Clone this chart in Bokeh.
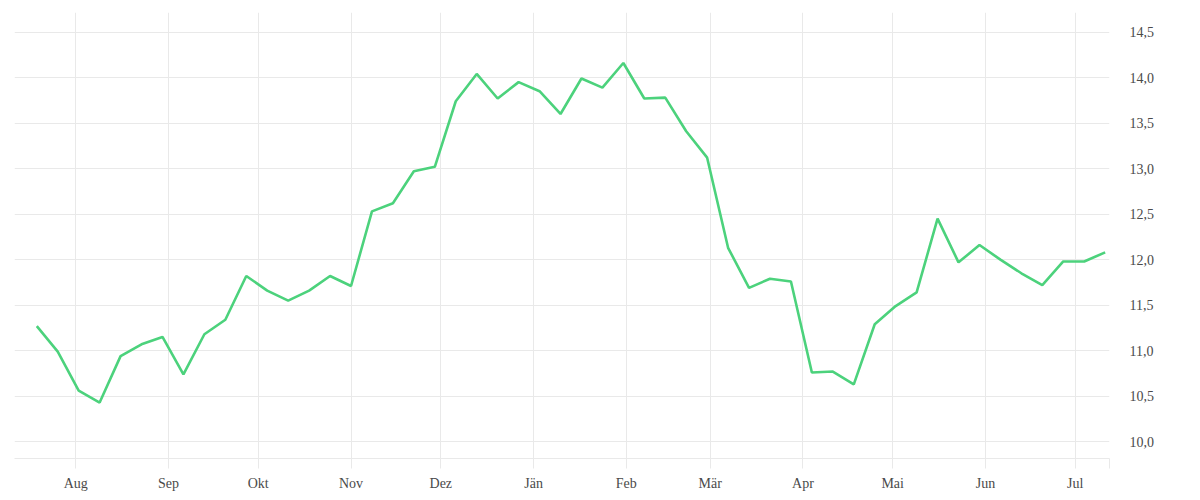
import pandas as pd
from bokeh.plotting import figure
from bokeh.models import FixedTicker, LinearAxis, Range1d
from bokeh.embed import file_html
from bokeh.resources import INLINE

start_date = "2022-07-19"
n_weeks = 52
values = [11.27, 10.99, 10.56, 10.43, 10.94, 11.07, 11.15, 10.74, 11.18, 11.34,
          11.82, 11.66, 11.55, 11.66, 11.82, 11.71, 12.53, 12.62, 12.97, 13.02,
          13.74, 14.04, 13.77, 13.95, 13.85, 13.60, 13.99, 13.89, 14.16, 13.77,
          13.78, 13.41, 13.12, 12.13, 11.69, 11.79, 11.76, 10.76, 10.77, 10.63,
          11.29, 11.49, 11.64, 12.45, 11.97, 12.16, 12.00, 11.85, 11.72, 11.98,
          11.98, 12.08]
month_dates = ["2022-08-01", "2022-09-01", "2022-10-01", "2022-11-01", "2022-12-01",
               "2023-01-01", "2023-02-01", "2023-03-01", "2023-04-01", "2023-05-01",
               "2023-06-01", "2023-07-01"]
month_labels = ["Aug", "Sep", "Okt", "Nov", "Dez", "Jän", "Feb", "Mär", "Apr", "Mai", "Jun", "Jul"]
y_ticks = [10.0, 10.5, 11.0, 11.5, 12.0, 12.5, 13.0, 13.5, 14.0, 14.5]
y_labels = ["10,0", "10,5", "11,0", "11,5", "12,0", "12,5", "13,0", "13,5", "14,0", "14,5"]

dates = pd.date_range(start_date, periods=n_weeks, freq="7D")
day_ms = 86400000.0
x_start = dates[0].value / 1e6 - 7.45 * day_ms
x_end = float(round(dates[-1].value / 1e6 + 1.45 * day_ms))
month_ms = [pd.Timestamp(d).value / 1e6 for d in month_dates]

FONT = "Liberation Serif"
GRID = "#e9e9e9"
TEXT = "#4a4a4a"

p = figure(frame_width=1095, frame_height=446, output_backend="svg", toolbar_location=None,
           x_axis_type="datetime", x_range=Range1d(x_start, x_end), y_range=Range1d(9.815, 14.715),
           y_axis_location=None, min_border_left=14, min_border_top=12,
           min_border_right=40, min_border_bottom=20)
p.outline_line_color = None
p.background_fill_color = "white"
p.border_fill_color = "white"

p.line(dates, values, line_color="#4cd27c", line_width=2.6)

xa = p.xaxis[0]
xa.ticker = FixedTicker(ticks=month_ms + [x_end])
overrides = {m: l for m, l in zip(month_ms, month_labels)}
overrides[x_end] = ""
xa.major_label_overrides = overrides
xa.axis_line_color = GRID
xa.major_tick_line_color = GRID
xa.major_tick_out = 10
xa.major_tick_in = 0
xa.minor_tick_line_color = None
xa.major_label_standoff = 7
xa.major_label_text_font = FONT
xa.major_label_text_font_size = "14px"
xa.major_label_text_color = TEXT

ya = LinearAxis(ticker=FixedTicker(ticks=y_ticks))
ya.major_label_overrides = {t: l for t, l in zip(y_ticks, y_labels)}
ya.axis_line_color = None
ya.major_tick_line_color = None
ya.minor_tick_line_color = None
ya.major_label_standoff = 14
ya.major_label_text_font = FONT
ya.major_label_text_font_size = "14px"
ya.major_label_text_color = TEXT
p.add_layout(ya, "right")

p.xgrid.grid_line_color = GRID
p.ygrid.grid_line_color = GRID
p.ygrid[0].ticker = ya.ticker

open("out.html", "w").write(file_html(p, INLINE))
